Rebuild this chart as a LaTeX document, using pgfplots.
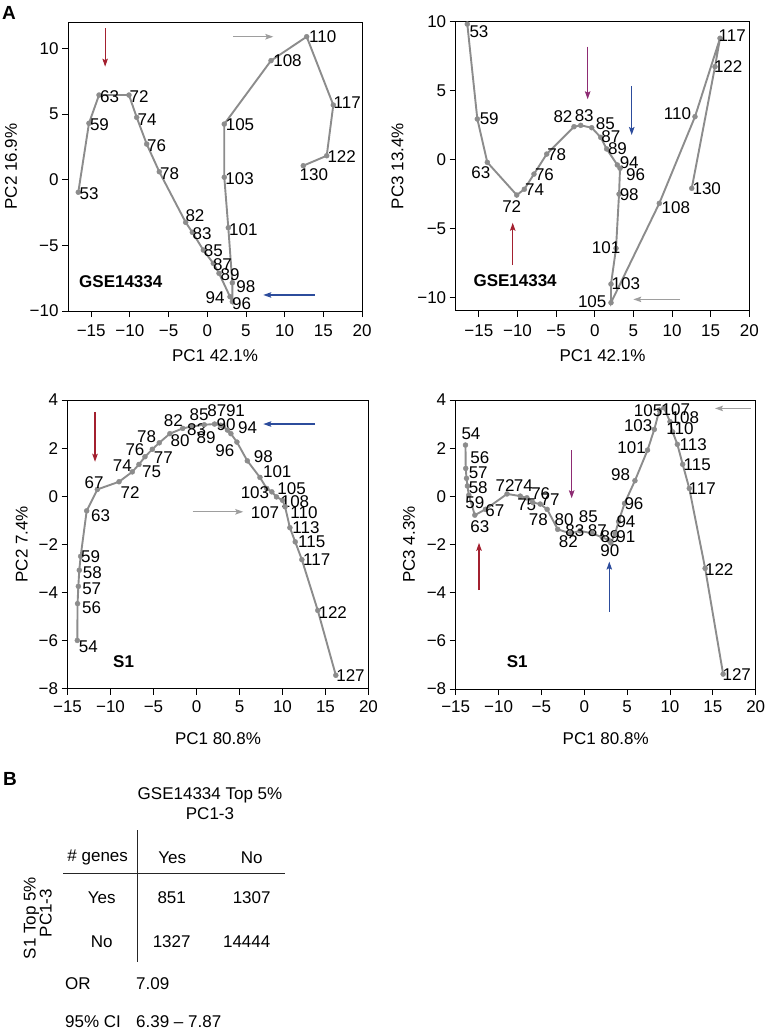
\documentclass[border=0pt]{standalone}
\usepackage{pgfplots}
\pgfplotsset{compat=1.18}
\usepackage{pgfplotstable}
\usepackage{fontspec}
\setmainfont{Liberation Sans}
\usetikzlibrary{arrows.meta}
\newcommand\fs{\fontsize{17}{20}\selectfont}
\protected\def\L#1#2#3{\makebox[0pt][c]{\raisebox{\dimexpr#2pt-6pt\relax}[0pt][0pt]{\hspace*{#1pt}\hspace*{#1pt}#3}}}
\definecolor{trajgray}{RGB}{140,140,140}
\definecolor{arrgray}{RGB}{158,158,158}
\definecolor{arrred}{RGB}{163,32,47}
\definecolor{arrblue}{RGB}{44,76,156}
\definecolor{arrpurple}{RGB}{142,43,115}

\pgfplotstableread{
x y lab
-16.67 -0.96 \L{10.9}{-1}{53}
-15.29 4.29 \L{10.5}{-1}{59}
-13.99 6.44 \L{10.5}{-1}{63}
-10.12 6.44 \L{10.2}{-1}{72}
-9.12 4.74 \L{10.5}{-2}{74}
-7.83 2.71 \L{10}{-1.7}{76}
-6.2 0.6 \L{10.4}{-1.6}{78}
-2.79 -3.25 \L{9.3}{6.6}{82}
-1.93 -4.01 \L{9.7}{-1}{83}
-0.51 -5.36 \L{10}{-0.7}{85}
0.78 -6.37 \L{9.2}{-1}{87}
1.52 -7.13 \L{11}{-1}{89}
2.94 -8.91 \L{-15}{-1}{94}
3.24 -9.29 \L{9.2}{-1.6}{96}
3.24 -7.85 \L{13.5}{-3.3}{98}
2.72 -3.66 \L{15}{-1.3}{101}
2.2 0.18 \L{15.3}{-1.7}{103}
2.2 4.23 \L{15.7}{-0.3}{105}
8.24 9.06 \L{16.5}{0}{108}
12.85 10.88 \L{16.1}{0}{110}
16.29 5.68 \L{13.9}{2.3}{117}
15.44 1.82 \L{15}{-1}{122}
12.41 1.06 \L{10.5}{-8.6}{130}
}\gseA

\pgfplotstableread{
x y lab
-16.5 9.83 \L{11.7}{-7.7}{53}
-15.2 2.95 \L{11.9}{0}{59}
-13.91 -0.19 \L{-6.5}{-10}{63}
-10.1 -2.56 \L{-5}{-11.7}{72}
-9.12 -2.14 \L{10.2}{-0.7}{74}
-7.87 -1.04 \L{10.5}{0}{76}
-6.22 0.41 \L{10}{0}{78}
-2.69 2.39 \L{-11}{10}{82}
-1.82 2.49 \L{3.5}{10.3}{83}
-0.4 2.32 \L{13.6}{3.7}{85}
0.77 1.62 \L{10.1}{0.6}{87}
1.54 0.78 \L{10.8}{0}{89}
2.92 -0.38 \L{11.9}{2.3}{94}
3.27 -0.62 \L{15.5}{-6}{96}
3.14 -2.49 \L{10.2}{0}{98}
2.75 -6.42 \L{-10}{0.6}{101}
2.1 -9.01 \L{14.8}{0.7}{103}
2.1 -10.36 \L{-18.8}{1}{105}
8.35 -3.16 \L{16.5}{-4}{108}
12.97 3.12 \L{-17.5}{3.4}{110}
16.21 8.8 \L{12.2}{2.6}{117}
15.56 6.74 \L{13.2}{0}{122}
12.55 -2.07 \L{15}{-0.7}{130}
}\gseB

\pgfplotstableread{
x y lab
-13.86 -6.0 \L{11}{-6}{54}
-13.83 -4.47 \L{14}{-3.4}{56}
-13.74 -3.75 \L{13.4}{-1.7}{57}
-13.63 -3.08 \L{13}{-2.7}{58}
-13.47 -2.5 \L{10}{-0.7}{59}
-12.77 -0.61 \L{14}{-5}{63}
-11.53 0.28 \L{-3.3}{7}{67}
-9.01 0.6 \L{11}{-10.6}{72}
-7.47 1.01 \L{-10}{6.7}{74}
-6.69 1.32 \L{12.7}{-7.4}{75}
-5.99 1.64 \L{-10}{7.4}{76}
-5.14 1.95 \L{11}{-8.4}{77}
-4.33 2.22 \L{-12.6}{6}{78}
-3.1 2.6 \L{10.2}{-7.1}{80}
-1.6 2.82 \L{-9.4}{8.3}{82}
-0.5 2.9 \L{4.5}{-2.9}{83}
0.9 2.97 \L{-5.2}{10.4}{85}
2.1 3.0 \L{2.2}{14}{87}
2.8 2.95 \L{-14.4}{-12.1}{89}
3.1 2.9 \L{3}{2.1}{90}
3.6 2.75 \L{8}{20}{91}
4.0 2.6 \L{16.7}{6.3}{94}
4.7 2.25 \L{-12}{-8}{96}
5.91 1.47 \L{16}{4}{98}
7.38 0.78 \L{17.3}{5.6}{101}
8.17 0.32 \L{-11.8}{-4}{103}
8.76 0.18 \L{19.8}{3.4}{105}
9.3 -0.03 \L{-11.5}{-16}{107}
10.0 -0.17 \L{12.5}{-1.6}{108}
10.3 -0.44 \L{18.9}{-6.1}{110}
10.86 -1.31 \L{16.1}{0}{113}
11.48 -1.9 \L{16.5}{0}{115}
12.25 -2.64 \L{14.9}{0}{117}
14.1 -4.75 \L{15}{-1.7}{122}
16.2 -7.45 \L{14.7}{0}{127}
}\sA

\pgfplotstableread{
x y lab
-13.86 2.13 \L{5.5}{11.7}{54}
-13.83 1.16 \L{14.2}{11}{56}
-13.74 0.75 \L{11.7}{5.5}{57}
-13.63 0.43 \L{10.8}{-1.4}{58}
-13.47 0.05 \L{6.1}{-7.5}{59}
-12.77 -0.78 \L{5.1}{-10.9}{63}
-11.53 -0.54 \L{9.5}{-0.7}{67}
-9.01 0.1 \L{-2}{8.2}{72}
-7.47 0.01 \L{3.1}{10.4}{74}
-6.69 -0.06 \L{-0.2}{-7.2}{75}
-5.99 -0.26 \L{7.8}{9.3}{76}
-5.14 -0.32 \L{9.8}{4.1}{77}
-4.33 -0.54 \L{-8.9}{-10}{78}
-3.1 -1.37 \L{6.3}{10}{80}
-1.6 -1.54 \L{-2.3}{-8.3}{82}
-0.5 -1.43 \L{-5.1}{0}{83}
0.9 -1.54 \L{-3.7}{16.7}{85}
2.1 -1.7 \L{-5}{6.6}{87}
2.8 -1.81 \L{1.7}{3.2}{89}
3.1 -1.93 \L{-0.9}{-7.9}{90}
3.6 -1.54 \L{10.8}{-3.3}{91}
4.0 -1.05 \L{7.4}{0}{94}
4.7 -0.29 \L{9.4}{0}{96}
5.91 0.65 \L{-14.3}{5.7}{98}
7.38 1.92 \L{-15.9}{2.4}{101}
8.17 2.78 \L{-16.1}{3.4}{103}
8.76 3.58 \L{-11.2}{0}{105}
9.3 3.68 \L{11.9}{-1.6}{107}
10.0 3.1 \L{14.9}{4.4}{108}
10.3 2.68 \L{7.4}{3.5}{110}
10.86 2.16 \L{15.9}{0}{113}
11.48 1.33 \L{14.6}{0}{115}
12.25 0.33 \L{13}{-0.6}{117}
14.1 -2.99 \L{14.1}{-1}{122}
16.2 -7.38 \L{13.6}{0}{127}
}\sB

\pgfplotsset{
  panel/.style={
    scale only axis, clip=false, anchor=south west,
    axis line style={line width=0.9pt, black},
    every tick/.style={line width=0.9pt, black},
    tick align=outside, major tick length=6pt,
    xtick pos=bottom, ytick pos=left,
    ticklabel style={font=\fs},
    label style={font=\fs},
  },
  gsex/.style={xmin=-18, xmax=20, xtick={-15,-10,...,20},
    xticklabels={{−15},{−10},{−5},0,5,10,15,20},
    xticklabel style={yshift=-4.5pt}},
  s1x/.style={xmin=-15, xmax=20, xtick={-15,-10,...,20},
    xticklabels={{−15},{−10},{−5},0,5,10,15,20},
    xticklabel style={yshift=-2.5pt}},
  s1y/.style={ymin=-8, ymax=4, ytick={-8,-6,...,4},
    yticklabels={{−8},{−6},{−4},{−2},0,2,4}},
  traj/.style={draw=trajgray, line width=1.9pt, mark=*, mark size=2.5pt,
    mark options={solid, fill=trajgray, draw=trajgray, line width=0.4pt},
    point meta=explicit symbolic,
    nodes near coords,
    every node near coord/.append style={anchor=center,
      font=\fs, text=black, inner sep=0pt}},
  arr/.style={line width=1.2pt, mark=none, -{Stealth[length=8pt,width=5.5pt,inset=1.5pt]}},
}

\begin{document}
\begin{tikzpicture}
\useasboundingbox (0,0) rectangle (767pt,-1032pt);

\node[font=\bfseries\fontsize{19}{22}\selectfont] at (9pt,-13pt) {A};

% Panel 1
\begin{axis}[panel, gsex, at={(68pt,-311pt)}, width=294pt, height=289pt,
  ymin=-10, ymax=12, ytick={-10,-5,0,5,10}, yticklabels={{−10},{−5},0,5,10},
  xlabel={PC1 42.1\%}, ylabel={PC2 16.9\%},
  xlabel style={at={(axis description cs:0.5,-0.156)}, anchor=center},
  ylabel style={at={(axis description cs:-0.194,0.5)}, anchor=center}]
\addplot[traj] table[x=x,y=y,meta=lab] {\gseA};
\addplot[arr, arrred] coordinates {(-13.2,11.54) (-13.2,8.6)};
\addplot[arr, arrgray] coordinates {(3.37,10.88) (8.54,10.88)};
\addplot[arr, arrblue] coordinates {(13.92,-8.78) (7.24,-8.78)};
\node[anchor=west, font=\bfseries\fs, inner sep=0pt] at (axis cs:-16.58,-7.77) {GSE14334};
\end{axis}

% Panel 2
\begin{axis}[panel, gsex, at={(455.7pt,-310.7pt)}, width=293.6pt, height=289pt,
  ymin=-10.94, ymax=10, ytick={-10,-5,0,5,10}, yticklabels={{−10},{−5},0,5,10},
  xlabel={PC1 42.1\%}, ylabel={PC3 13.4\%},
  xlabel style={at={(axis description cs:0.5,-0.157)}, anchor=center},
  ylabel style={at={(axis description cs:-0.198,0.5)}, anchor=center}]
\addplot[traj] table[x=x,y=y,meta=lab] {\gseB};
\addplot[arr, arrpurple] coordinates {(-0.92,8.19) (-0.92,4.38)};
\addplot[arr, arrblue] coordinates {(4.78,5.34) (4.78,1.79)};
\addplot[arr, arrred] coordinates {(-10.62,-7.63) (-10.62,-4.57)};
\addplot[arr, arrgray] coordinates {(11.03,-10.12) (4.99,-10.12)};
\node[anchor=west, font=\bfseries\fs, inner sep=0pt] at (axis cs:-15.72,-8.79) {GSE14334};
\end{axis}

% Panel 3
\begin{axis}[panel, s1x, s1y, at={(67.5pt,-688.5pt)}, width=301pt, height=288.5pt,
  xlabel={PC1 80.8\%}, ylabel={PC2 7.4\%},
  xlabel style={at={(axis description cs:0.5,-0.173)}, anchor=center},
  ylabel style={at={(axis description cs:-0.152,0.5)}, anchor=center}]
\addplot[traj] table[x=x,y=y,meta=lab] {\sA};
\addplot[arr, arrred] coordinates {(-11.8,3.51) (-11.8,1.43)};
\addplot[arr, arrblue] coordinates {(13.78,3.0) (7.77,3.0)};
\addplot[arr, arrgray] coordinates {(-0.44,-0.65) (5.44,-0.65)};
\node[anchor=west, font=\bfseries\fs, inner sep=0pt] at (axis cs:-9.71,-6.9) {S1};
\end{axis}

% Panel 4
\begin{axis}[panel, s1x, s1y, at={(455.7pt,-689pt)}, width=300pt, height=289pt,
  xlabel={PC1 80.8\%}, ylabel={PC3 4.3\%},
  xlabel style={at={(axis description cs:0.5,-0.173)}, anchor=center},
  ylabel style={at={(axis description cs:-0.156,0.5)}, anchor=center}]
\addplot[traj] table[x=x,y=y,meta=lab] {\sB};
\addplot[arr, arrgray] coordinates {(19.45,3.65) (15.25,3.65)};
\addplot[arr, arrpurple] coordinates {(-1.47,1.92) (-1.47,-0.08)};
\addplot[arr, arrred] coordinates {(-12.28,-3.89) (-12.28,-1.93)};
\addplot[arr, arrblue] coordinates {(2.92,-4.79) (2.92,-2.71)};
\node[anchor=west, font=\bfseries\fs, inner sep=0pt] at (axis cs:-9.05,-6.87) {S1};
\end{axis}

% Panel B: table
\begin{scope}[every node/.style={font=\fs, inner sep=0pt}]
\node[font=\bfseries\fontsize{19}{22}\selectfont] at (10pt,-779pt) {B};
\node at (210pt,-795pt) {GSE14334 Top 5\%};
\node at (210pt,-814pt) {PC1-3};
\draw[line width=0.9pt, black!85] (137.7pt,-830pt) -- (137.7pt,-961.7pt);
\draw[line width=0.9pt, black!85] (63.3pt,-873.3pt) -- (285pt,-873.3pt);
\node at (97.7pt,-857.7pt) {\# genes};
\node at (172.3pt,-857.7pt) {Yes};
\node at (251.7pt,-857.7pt) {No};
\node at (101.7pt,-897.3pt) {Yes};
\node at (171.7pt,-897.3pt) {851};
\node at (251.7pt,-897.3pt) {1307};
\node at (101.7pt,-941.7pt) {No};
\node at (171.7pt,-941.7pt) {1327};
\node at (246.7pt,-941.7pt) {14444};
\node[rotate=90] at (31.5pt,-918pt) {S1 Top 5\%};
\node[rotate=90] at (45.8pt,-913pt) {PC1-3};
\node[anchor=west] at (65pt,-984pt) {OR};
\node[anchor=west] at (136pt,-984pt) {7.09};
\node[anchor=west] at (65pt,-1021.7pt) {95\% CI};
\node[anchor=west] at (136pt,-1021.7pt) {6.39 – 7.87};
\end{scope}
\end{tikzpicture}
\end{document}
